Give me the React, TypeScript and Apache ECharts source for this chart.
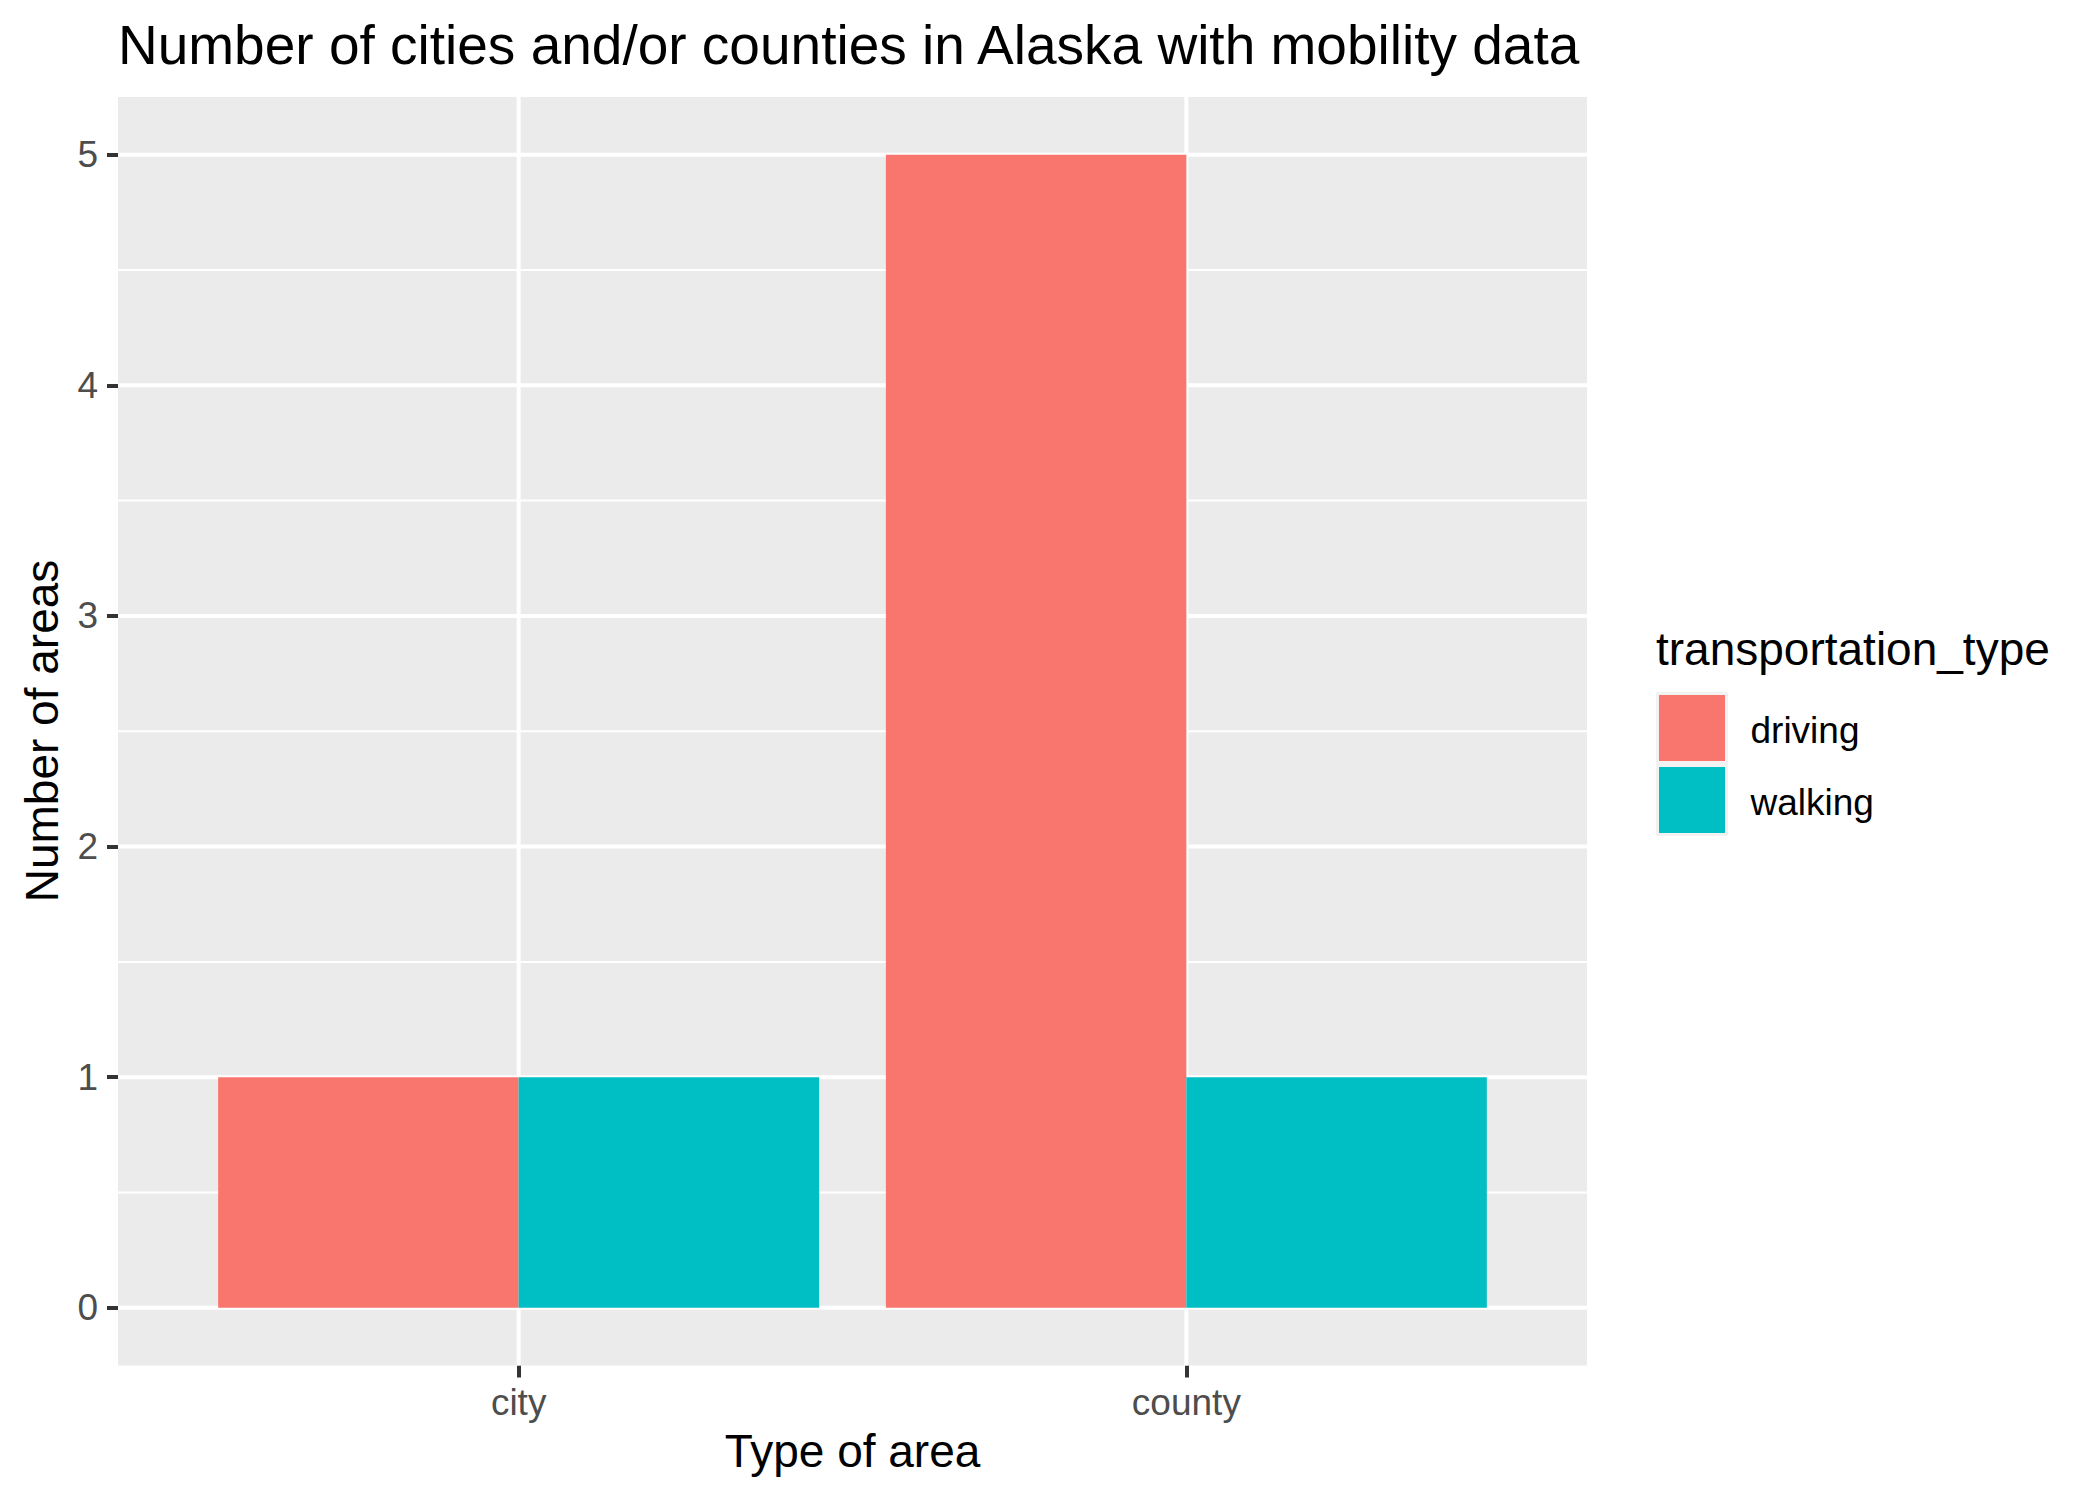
import React, { useEffect, useRef } from "react";
import * as echarts from "echarts";

// ---- data ----
const categories = ["city", "county"];
const xPositions = [1, 2];
const seriesNames = ["driving", "walking"];
const drivingValues = [1, 5];
const walkingValues = [1, 1];
const seriesColors = ["#F8766D", "#00BFC4"];
const yTicks = [0, 1, 2, 3, 4, 5];
const yMinorTicks = [0.5, 1.5, 2.5, 3.5, 4.5];

const titleText = "Number of cities and/or counties in Alaska with mobility data";
const xTitle = "Type of area";
const yTitle = "Number of areas";
const legendTitle = "transportation_type";

const FONT = "'Liberation Sans', Arial, Helvetica, sans-serif";

const GRID = { left: 118, top: 97, width: 1469, height: 1268.5 };

export default function App() {
  const ref = useRef<HTMLDivElement>(null);

  useEffect(() => {
    if (!ref.current) return;
    const chart = echarts.init(ref.current, undefined, { renderer: "svg" });

    const hLine = (width: number, data: number[]) => ({
      type: "custom",
      silent: true,
      z: 1,
      data: data.map((v) => [1, v]),
      renderItem: (params: any, api: any) => {
        const cs = params.coordSys;
        const y = api.coord([1, api.value(1)])[1];
        return {
          type: "line",
          shape: { x1: cs.x, y1: y, x2: cs.x + cs.width, y2: y },
          style: { stroke: "#FFFFFF", lineWidth: width },
        };
      },
    });

    const vLine = (width: number, data: number[]) => ({
      type: "custom",
      silent: true,
      z: 2,
      data: data.map((v) => [v, 0]),
      renderItem: (params: any, api: any) => {
        const cs = params.coordSys;
        const x = api.coord([api.value(0), 0])[0];
        return {
          type: "line",
          shape: { x1: x, y1: cs.y, x2: x, y2: cs.y + cs.height },
          style: { stroke: "#FFFFFF", lineWidth: width },
        };
      },
    });

    const barSeries = (name: string, values: number[], color: string, offset: number) => ({
      type: "custom",
      name,
      z: 3,
      data: values.map((v, i) => [xPositions[i], v]),
      renderItem: (_params: any, api: any) => {
        const x = api.value(0);
        const y = api.value(1);
        const p0 = api.coord([x + offset - 0.225, y]);
        const p1 = api.coord([x + offset + 0.225, 0]);
        return {
          type: "rect",
          shape: { x: p0[0], y: p0[1], width: p1[0] - p0[0], height: p1[1] - p0[1] },
          style: { fill: color },
        };
      },
    });

    const legendGraphics: any[] = [
      {
        type: "text",
        x: 1656,
        y: 649,
        style: {
          text: legendTitle,
          font: `46px ${FONT}`,
          fill: "#000000",
          textAlign: "left",
          textVerticalAlign: "middle",
          align: "left",
          verticalAlign: "middle",
        },
      },
      {
        type: "rect",
        shape: { x: 1656, y: 692, width: 72, height: 144 },
        style: { fill: "#F2F2F2" },
      },
    ];
    seriesNames.forEach((n, i) => {
      legendGraphics.push({
        type: "rect",
        shape: { x: 1659, y: 695 + i * 72, width: 66, height: 66 },
        style: { fill: seriesColors[i] },
      });
      legendGraphics.push({
        type: "text",
        x: 1750.5,
        y: 730 + i * 72,
        style: {
          text: n,
          font: `37px ${FONT}`,
          fill: "#000000",
          textAlign: "left",
          textVerticalAlign: "middle",
          align: "left",
          verticalAlign: "middle",
        },
      });
    });

    const option: any = {
      animation: false,
      backgroundColor: "#FFFFFF",
      grid: {
        ...GRID,
        show: true,
        backgroundColor: "#EBEBEB",
        borderWidth: 0,
        containLabel: false,
      },
      xAxis: {
        type: "value",
        position: "bottom",
        min: 0.4,
        max: 2.6,
        axisLine: { show: false, onZero: false },
        splitLine: { show: false },
        axisTick: {
          show: true,
          customValues: xPositions,
          length: 12,
          lineStyle: { color: "#333333", width: 4 },
        },
        axisLabel: {
          show: true,
          customValues: xPositions,
          margin: 18,
          color: "#4D4D4D",
          fontSize: 37,
          fontFamily: FONT,
          formatter: (v: number) => categories[Math.round(v) - 1] ?? "",
        },
      },
      yAxis: {
        type: "value",
        position: "left",
        min: -0.25,
        max: 5.25,
        axisLine: { show: false, onZero: false },
        splitLine: { show: false },
        axisTick: {
          show: true,
          customValues: yTicks,
          length: 11,
          lineStyle: { color: "#333333", width: 4 },
        },
        axisLabel: {
          show: true,
          customValues: yTicks,
          margin: 20,
          color: "#4D4D4D",
          fontSize: 37,
          fontFamily: FONT,
          formatter: (v: number) => String(v),
        },
      },
      series: [
        hLine(2, yMinorTicks),
        hLine(4, yTicks),
        vLine(4, xPositions),
        barSeries(seriesNames[0], drivingValues, seriesColors[0], -0.225),
        barSeries(seriesNames[1], walkingValues, seriesColors[1], 0.225),
      ],
      graphic: [
        {
          type: "text",
          x: 118,
          y: 45,
          style: {
            text: titleText,
            font: `55px ${FONT}`,
            fill: "#000000",
            textAlign: "left",
            textVerticalAlign: "middle",
            align: "left",
            verticalAlign: "middle",
          },
        },
        {
          type: "text",
          x: 852.5,
          y: 1451,
          style: {
            text: xTitle,
            font: `46px ${FONT}`,
            fill: "#000000",
            textAlign: "center",
            textVerticalAlign: "middle",
            align: "center",
            verticalAlign: "middle",
          },
        },
        {
          type: "text",
          x: 42,
          y: 731,
          rotation: Math.PI / 2,
          style: {
            text: yTitle,
            font: `46px ${FONT}`,
            fill: "#000000",
            textAlign: "center",
            textVerticalAlign: "middle",
            align: "center",
            verticalAlign: "middle",
          },
        },
        ...legendGraphics,
      ],
    };

    chart.setOption(option);
    return () => chart.dispose();
  }, []);

  return (
    <div
      ref={ref}
      style={{
        position: "fixed",
        left: 0,
        top: 0,
        width: 2100,
        height: 1499,
        background: "#FFFFFF",
      }}
    />
  );
}
